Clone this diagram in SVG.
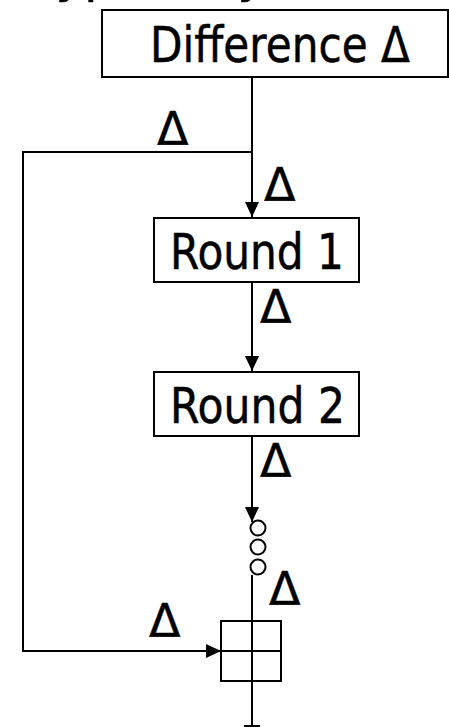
<svg xmlns="http://www.w3.org/2000/svg" width="449" height="727" viewBox="0 0 449 727">
<style>
.box{fill:#fff;stroke:#000;stroke-width:2}
.ln{fill:none;stroke:#000;stroke-width:2}
.t{font-family:"DejaVu Sans","Verdana",sans-serif;font-size:49px;fill:#000;stroke:#000;stroke-width:0.5}
.d{font-family:"DejaVu Sans","Verdana",sans-serif;font-size:46px;fill:#000;stroke:#000;stroke-width:0.5}
</style>
<defs>
<marker id="ah" markerUnits="userSpaceOnUse" markerWidth="16" markerHeight="16" viewBox="0 0 16 16" refX="15" refY="8" orient="auto">
<path d="M0,1 L15,8 L0,15 Z" fill="#000"/>
</marker>
</defs>
<text class="t" x="2" y="-8" textLength="328" lengthAdjust="spacingAndGlyphs">Cryptanalysis</text>
<g id="connectors">
<line class="ln" x1="252" y1="77" x2="252" y2="217" marker-end="url(#ah)"/>
<polyline class="ln" points="252,152 23,152 23,651 221,651" marker-end="url(#ah)"/>
<line class="ln" x1="252" y1="282" x2="252" y2="371" marker-end="url(#ah)"/>
<line class="ln" x1="252" y1="436" x2="252" y2="522" marker-end="url(#ah)"/>
<line class="ln" x1="252" y1="575" x2="252" y2="727"/>
<line class="ln" x1="244" y1="726" x2="260" y2="726"/>
<text class="d" x="157" y="145">Δ</text>
<text class="d" x="264" y="201">Δ</text>
<text class="d" x="260" y="323">Δ</text>
<text class="d" x="260" y="477">Δ</text>
<text class="d" x="269" y="605">Δ</text>
<text class="d" x="149" y="637">Δ</text>
</g>
<g id="difference">
<rect class="box" x="102" y="10" width="346" height="67"/>
<text class="t" x="150" y="62" textLength="260" lengthAdjust="spacingAndGlyphs">Difference Δ</text>
</g>
<g id="round1">
<rect class="box" x="154" y="218" width="205" height="64"/>
<text class="t" x="170" y="269" textLength="174" lengthAdjust="spacingAndGlyphs">Round 1</text>
</g>
<g id="round2">
<rect class="box" x="154" y="372" width="205" height="64"/>
<text class="t" x="170" y="423" textLength="175" lengthAdjust="spacingAndGlyphs">Round 2</text>
</g>
<g id="dots">
<circle class="ln" cx="258" cy="528" r="7.5"/>
<circle class="ln" cx="258" cy="547" r="7.5"/>
<circle class="ln" cx="258" cy="567" r="7.5"/>
</g>
<g id="xor">
<rect class="ln" x="221" y="621" width="60" height="60"/>
<line class="ln" x1="221" y1="651" x2="281" y2="651"/>
<line class="ln" x1="252" y1="621" x2="252" y2="681"/>
</g>
</svg>
